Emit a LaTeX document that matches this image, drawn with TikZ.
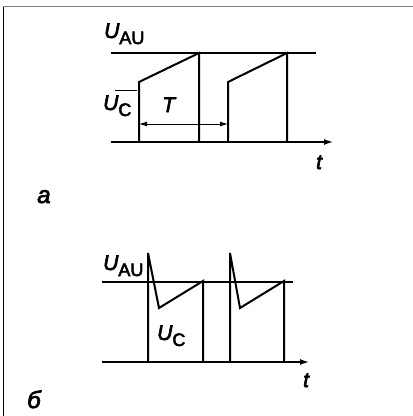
\documentclass[tikz,border=0pt]{standalone}
\usepackage{fontspec}
\setmainfont{Liberation Sans}
\newfontfamily\lblfont{Liberation Sans}[UprightFeatures={FakeBold=3}, ItalicFeatures={FakeBold=3}]
\usetikzlibrary{arrows.meta}
\newcommand\sublbl[2]{{\itshape #1}\raisebox{-6pt}{\fontsize{18}{18}\selectfont\upshape #2}}
\begin{document}
\begin{tikzpicture}[x=1pt,y=-1pt,
  wave/.style={line width=2pt, line join=miter},
  lvl/.style={line width=2pt},
  axisline/.style={line width=1.3pt,-{Latex[length=9pt,width=6pt]}},
  dimline/.style={line width=0.9pt,{Latex[length=8pt,width=5pt]}-{Latex[length=8pt,width=5pt]}},
  leader/.style={line width=0.8pt},
  lbl/.style={inner sep=0pt, anchor=base west, font=\lblfont\fontsize{21}{21}\selectfont\itshape},
  biglbl/.style={lbl, font=\lblfont\fontsize{24}{24}\selectfont\itshape}]
\useasboundingbox (0,0) rectangle (413,416);
% frame
\draw[gray, line width=1.5pt] (2.8,6.5) -- (413,6.5);
\draw[black, line width=1.3pt] (3.5,6.5) -- (3.5,416);

% ---------- diagram a ----------
\coordinate (aO) at (111,142);
\coordinate (aE) at (333,142);
\coordinate (aL1) at (111,53);
\coordinate (aL2) at (316,53);
\coordinate (p1b) at (139,142);
\coordinate (p1s) at (139,82);
\coordinate (p1t) at (199,53);
\coordinate (p1e) at (199,142);
\coordinate (p2b) at (228,142);
\coordinate (p2s) at (228,82);
\coordinate (p2t) at (287,53);
\coordinate (p2e) at (287,142);
\coordinate (Ta) at (139,124);
\coordinate (Tb) at (228,124);
\coordinate (ova) at (115,90);
\coordinate (ovb) at (137,90);

\draw[axisline] (aO) -- (aE);
\draw[lvl] (aL1) -- (aL2);
\draw[wave] (p1b) -- (p1s) -- (p1t) -- (p1e);
\draw[wave] (p2b) -- (p2s) -- (p2t) -- (p2e);
\draw[dimline] (Ta) -- (Tb);
\draw[leader] (ova) -- (ovb);

\node[lbl] (aUAU) at (104,38) {\sublbl{U}{AU}};
\node[lbl] (aUC) at (103,110) {\sublbl{U}{C}};
\node[lbl] (aT) at (162,112) {T};
\node[lbl] (at) at (316,169) {t};
\node[biglbl] (alabel) at (37,203) {а};

% ---------- diagram b ----------
\coordinate (bO) at (102,362);
\coordinate (bE) at (309,362);
\coordinate (bL1) at (102,282);
\coordinate (bL2) at (293,282);
\coordinate (q1b) at (148,362);
\coordinate (q1s) at (148,253);
\coordinate (q1v) at (159,308);
\coordinate (q1t) at (203,281);
\coordinate (q1e) at (203,362);
\coordinate (q2b) at (230,362);
\coordinate (q2s) at (230,253);
\coordinate (q2v) at (240,308);
\coordinate (q2t) at (284,281);
\coordinate (q2e) at (284,362);

\draw[axisline] (bO) -- (bE);
\draw[lvl] (bL1) -- (bL2);
\draw[wave] (q1b) -- (q1s) -- (q1v) -- (q1t) -- (q1e);
\draw[wave] (q2b) -- (q2s) -- (q2v) -- (q2t) -- (q2e);

\node[lbl] (bUAU) at (103,270) {\sublbl{U}{AU}};
\node[lbl] (bUC) at (157,340) {\sublbl{U}{C}};
\node[lbl] (bt) at (303,387) {t};
\node[biglbl] (blabel) at (27,408) {б};
\end{tikzpicture}
\end{document}
